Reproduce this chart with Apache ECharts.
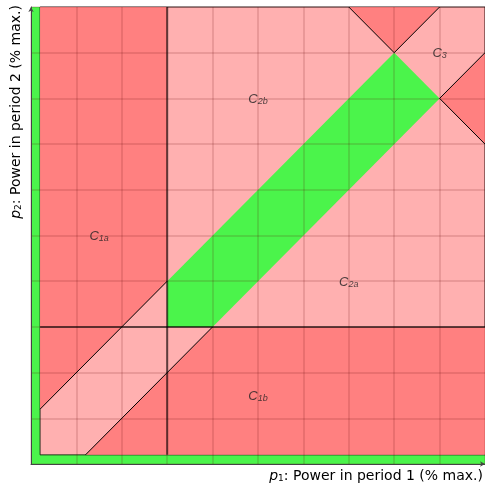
<!DOCTYPE html>
<html>
<head>
<meta charset="utf-8">
<script src="https://cdn.jsdelivr.net/npm/echarts@6/dist/echarts.min.js"></script>
<style>
html, body { margin: 0; padding: 0; background: #fff; }
#chart { width: 485px; height: 486px; }
</style>
</head>
<body>
<div id="chart"></div>
<script>
// Operating regions for power in two consecutive periods (both in % of max.)
const axisMin = 0;
const axisMax = 100;
const tickStep = 10;

// region outlines as [p1, p2] vertices
const rimZone = [[0, 0], [100, 0], [100, 100], [0, 100]];
const innerBox = [[2, 2], [100, 2], [100, 100], [2, 100]];
const regionC1a = [[2, 12], [30, 40], [30, 100], [2, 100]];
const regionC1b = [[12, 2], [100, 2], [100, 30], [40, 30]];
const cornerTop = [[70, 100], [80, 90], [90, 100]];
const cornerRight = [[100, 90], [90, 80], [100, 70]];
const rampBand = [[30, 30], [40, 30], [90, 80], [80, 90], [30, 40]];

// limit lines
const limitLines = [[[30, 2], [30, 100]], [[2, 30], [100, 30]]];
const rampEdges = [
  [[2, 12], [30, 40]],
  [[12, 2], [40, 30]],
  [[70, 100], [80, 90], [90, 100]],
  [[100, 90], [90, 80], [100, 70]]
];

// region tags
const tagNames = ['1a', '1b', '2a', '2b', '3'];
const tagP1 = [15, 50, 70, 50, 90];
const tagP2 = [50, 15, 40, 80, 90];

const RED = '#ff8080';
const PINK = '#ffb0b0';
const GREEN = '#4bf44b';

function polygonSeries(points, fill, stroke, lineWidth, z) {
  return {
    type: 'custom', coordinateSystem: 'cartesian2d', silent: true, z: z,
    data: [[points[0][0], points[0][1]]],
    renderItem: function (params, api) {
      return {
        type: 'polygon',
        shape: { points: points.map(function (p) { return api.coord(p); }) },
        style: { fill: fill, stroke: stroke || null, lineWidth: lineWidth || 0 }
      };
    }
  };
}

function polylineSeries(lines, stroke, lineWidth, z) {
  return {
    type: 'custom', coordinateSystem: 'cartesian2d', silent: true, z: z,
    data: lines.map(function (l, i) { return [l[0][0], l[0][1], i]; }),
    renderItem: function (params, api) {
      const pts = lines[params.dataIndex];
      return {
        type: 'polyline',
        shape: { points: pts.map(function (p) { return api.coord(p); }) },
        style: { fill: null, stroke: stroke, lineWidth: lineWidth }
      };
    }
  };
}

const gridLine = { show: true, lineStyle: { color: 'rgba(90,0,0,0.18)', width: 1.5 } };
const axisBase = {
  type: 'value', min: axisMin, max: axisMax, interval: tickStep, z: 3,
  axisLabel: { show: false }, axisTick: { show: false },
  splitLine: gridLine,
  axisLine: { show: true, lineStyle: { color: '#444', width: 1 }, symbol: ['none', 'arrow'], symbolSize: [4, 5] }
};

const tagRich = {
  c: { fontFamily: 'Liberation Sans', fontStyle: 'italic', fontSize: 13, lineHeight: 15, verticalAlign: 'bottom', color: '#222' },
  s: { fontFamily: 'Liberation Sans', fontStyle: 'italic', fontSize: 9, lineHeight: 10, verticalAlign: 'bottom', color: '#222' }
};

const nameRich = {
  i: { fontFamily: 'DejaVu Sans', fontStyle: 'italic', fontSize: 14, lineHeight: 17, verticalAlign: 'bottom', color: '#111' },
  s: { fontFamily: 'DejaVu Sans', fontSize: 9, lineHeight: 10, verticalAlign: 'bottom', color: '#111' },
  n: { fontFamily: 'DejaVu Sans', fontSize: 14, lineHeight: 17, verticalAlign: 'bottom', color: '#111' }
};

const chart = echarts.init(document.getElementById('chart'));
chart.setOption({
  animation: false,
  backgroundColor: '#fff',
  grid: { left: 31, right: 0, top: 7, bottom: 22 },
  xAxis: Object.assign({}, axisBase),
  yAxis: Object.assign({}, axisBase),
  series: [
    polygonSeries(rimZone, GREEN, null, 0, 1),
    polygonSeries(innerBox, PINK, 'rgba(0,0,0,0.75)', 1, 1),
    polygonSeries(regionC1a, RED, null, 0, 1),
    polygonSeries(regionC1b, RED, null, 0, 1),
    polygonSeries(cornerTop, RED, null, 0, 1),
    polygonSeries(cornerRight, RED, null, 0, 1),
    polygonSeries(rampBand, GREEN, null, 0, 1),
    polylineSeries(limitLines, 'rgba(0,0,0,0.6)', 2, 4),
    polylineSeries(rampEdges, '#000', 1, 4),
    {
      type: 'scatter', z: 5, silent: true, symbolSize: 0,
      data: tagP1.map(function (v, i) { return [v, tagP2[i]]; }),
      label: {
        show: true, position: 'inside', align: 'center', verticalAlign: 'middle',
        formatter: function (p) { return '{c|C}{s|' + tagNames[p.dataIndex] + '}'; },
        rich: tagRich
      }
    }
  ],
  graphic: [
    {
      type: 'text', x: 483, y: 475,
      style: {
        text: '{i|p}{s|1}{n|: Power in period 1 (% max.)}',
        rich: nameRich, align: 'right', verticalAlign: 'middle'
      }
    },
    {
      type: 'text', x: 15, y: 5, rotation: Math.PI / 2,
      style: {
        text: '{i|p}{s|2}{n|: Power in period 2 (% max.)}',
        rich: nameRich, align: 'right', verticalAlign: 'middle'
      }
    }
  ]
});
</script>
</body>
</html>
